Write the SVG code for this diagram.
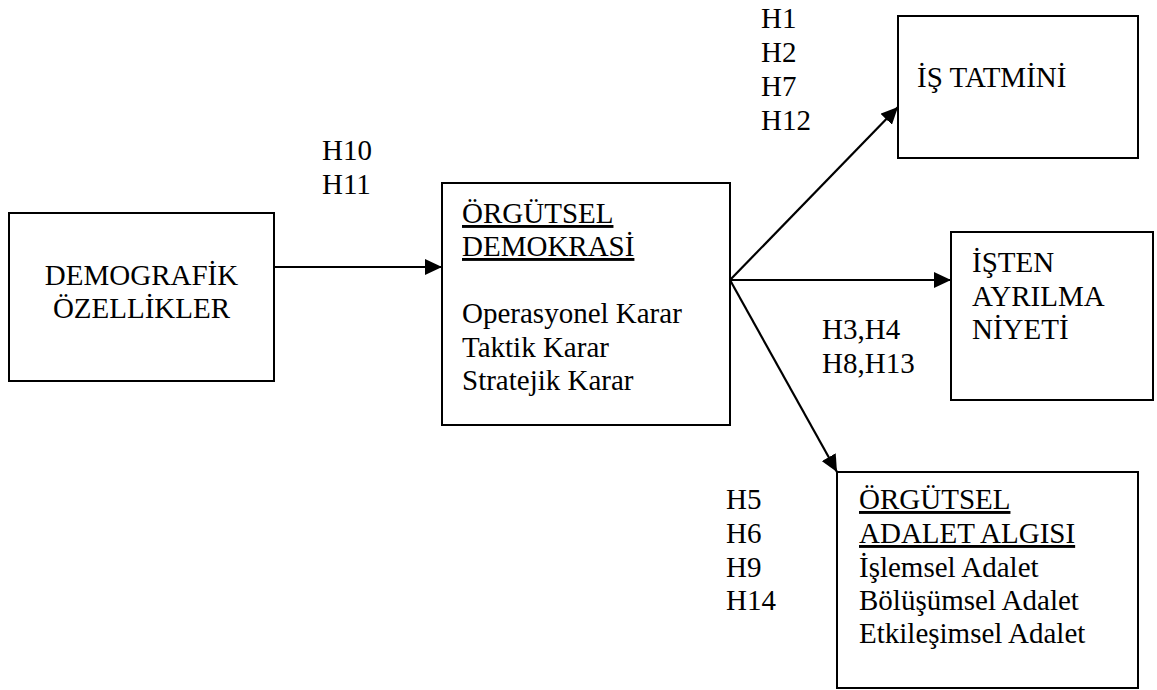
<svg xmlns="http://www.w3.org/2000/svg" width="1157" height="690" viewBox="0 0 1157 690">
<style>
text{font-family:"Liberation Serif","Times New Roman",serif;font-size:29px;fill:#000}
.box{fill:#fff;stroke:#000;stroke-width:2}
.con{stroke:#000;stroke-width:2.2;fill:none;marker-end:url(#ah)}
.u{text-decoration:underline}
</style>
<defs>
<marker id="ah" markerUnits="userSpaceOnUse" markerWidth="17" markerHeight="16" refX="17" refY="8" orient="auto">
<path d="M0,0 L17,8 L0,16 z" fill="#000"/>
</marker>
</defs>
<rect width="1157" height="690" fill="#fff"/>
<g id="connectors">
<line class="con" x1="274" y1="267" x2="442" y2="267"/>
<line class="con" x1="730" y1="280" x2="898" y2="107"/>
<line class="con" x1="730" y1="280" x2="951" y2="280"/>
<line class="con" x1="730" y1="280" x2="837" y2="472"/>
</g>
<g id="labels">
<text x="322" y="160">H10</text>
<text x="322" y="194">H11</text>
<text x="761" y="28">H1</text>
<text x="761" y="62">H2</text>
<text x="761" y="96">H7</text>
<text x="761" y="130">H12</text>
<text x="822" y="339">H3,H4</text>
<text x="822" y="373">H8,H13</text>
<text x="726" y="509">H5</text>
<text x="726" y="543">H6</text>
<text x="726" y="577">H9</text>
<text x="726" y="610">H14</text>
</g>
<g id="demografik">
<rect class="box" x="9" y="213" width="265" height="168"/>
<text x="141.5" y="285" text-anchor="middle">DEMOGRAFİK</text>
<text x="141.5" y="318" text-anchor="middle">ÖZELLİKLER</text>
</g>
<g id="orgutsel-demokrasi">
<rect class="box" x="442" y="183" width="288" height="242"/>
<text x="462" y="223" class="u">ÖRGÜTSEL</text>
<text x="462" y="256" class="u">DEMOKRASİ</text>
<text x="462" y="323">Operasyonel Karar</text>
<text x="462" y="357">Taktik Karar</text>
<text x="462" y="390">Stratejik Karar</text>
</g>
<g id="is-tatmini">
<rect class="box" x="898" y="16" width="240" height="142"/>
<text x="917" y="87">İŞ TATMİNİ</text>
</g>
<g id="isten-ayrilma">
<rect class="box" x="951" y="232" width="202" height="168"/>
<text x="972" y="272">İŞTEN</text>
<text x="972" y="306">AYRILMA</text>
<text x="972" y="339">NİYETİ</text>
</g>
<g id="adalet">
<rect class="box" x="837" y="472" width="301" height="216"/>
<text x="859" y="509" class="u">ÖRGÜTSEL</text>
<text x="859" y="543" class="u">ADALET ALGISI</text>
<text x="859" y="577">İşlemsel Adalet</text>
<text x="859" y="610">Bölüşümsel Adalet</text>
<text x="859" y="643">Etkileşimsel Adalet</text>
</g>
</svg>
